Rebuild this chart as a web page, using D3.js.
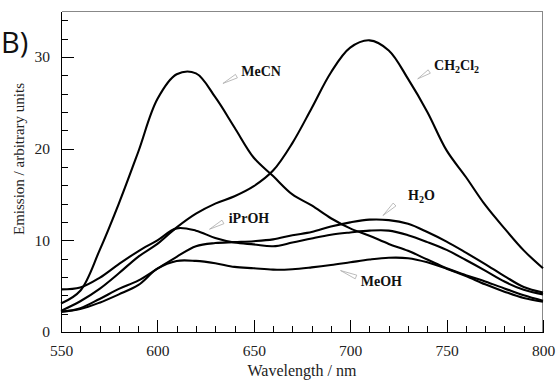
<!DOCTYPE html>
<html>
<head>
    <title>Emission spectra</title>
    <style>
        body {
            margin: 0;
            background: #fff;
        }

        text {
            font-family: 'Liberation Serif', 'Times New Roman', serif;
        }

        .axis path,
        .axis line {
            fill: none;
            stroke: #000;
            shape-rendering: crispEdges;
        }

        .axis text {
            font-size: 15.5px;
            fill: #222;
        }

        .frame {
            fill: none;
            stroke: #888;
            shape-rendering: crispEdges;
        }

        .line {
            fill: none;
            stroke: #000;
            stroke-width: 2.1px;
            stroke-linejoin: round;
        }

        .label {
            font-size: 14px;
            font-weight: bold;
            fill: #111;
        }

        .pointer {
            fill: none;
            stroke: #aaa;
            stroke-width: 0.8px;
        }
    </style>
    <script src="https://cdn.jsdelivr.net/npm/d3@7"></script>
</head>
<body>
    <script type="text/javascript">
        "use strict";
        const margin = { top: 11, right: 15, bottom: 49, left: 61 },
            width = 558 - margin.left - margin.right,
            height = 381 - margin.top - margin.bottom;

        // wavelengths (nm) shared by every series
        var wavelengths = [550, 560, 570, 580, 590, 600, 610, 620, 630, 640, 650, 660, 670,
            680, 690, 700, 710, 720, 730, 740, 750, 760, 770, 780, 790, 800];

        var mecn = [3.1, 4.5, 8.9, 14.0, 19.6, 25.4, 28.1, 28.2, 25.6, 22.3, 19.0, 17.0, 15.0,
            13.8, 12.4, 11.3, 10.5, 9.6, 8.85, 7.9, 6.95, 6.2, 5.5, 4.75, 4.0, 3.4];
        var ch2cl2 = [2.3, 3.35, 4.7, 6.4, 8.2, 9.6, 11.4, 12.9, 14.0, 14.8, 15.9, 17.6, 20.6,
            24.4, 28.3, 31.0, 31.8, 30.7, 27.6, 24.0, 19.8, 16.9, 13.85, 11.3, 8.9, 6.95];
        var iproh = [4.65, 4.85, 5.9, 7.4, 8.8, 10.0, 11.3, 11.05, 10.25, 9.75, 9.55, 9.35, 9.75,
            10.2, 10.6, 10.85, 11.05, 11.05, 10.55, 9.8, 8.95, 7.85, 6.7, 5.5, 4.6, 4.1];
        var h2o = [2.2, 2.6, 3.6, 4.7, 5.6, 6.9, 8.2, 9.35, 9.7, 9.8, 9.9, 10.1, 10.55,
            10.9, 11.5, 11.95, 12.25, 12.2, 11.8, 10.9, 9.85, 8.65, 7.4, 6.1, 4.9, 4.3];
        var meoh = [2.2, 2.5, 3.2, 4.1, 5.1, 6.9, 7.75, 7.75, 7.5, 7.1, 6.95, 6.8, 6.85,
            7.05, 7.3, 7.6, 7.9, 8.1, 8.05, 7.6, 6.9, 6.1, 5.2, 4.4, 3.7, 3.3];

        var seriesNames = ["MeCN", "CH2Cl2", "iPrOH", "H2O", "MeOH"];
        var seriesValues = [mecn, ch2cl2, iproh, h2o, meoh];

        var xTicks = [550, 600, 650, 700, 750, 800];
        var yTicks = [0, 10, 20, 30];

        // label anchor and pointer ends, in data units
        var labelPos = [
            { name: "MeCN", x: 643.5, y: 27.9, tipX: 634, tipY: 27.1, baseX: 641, baseY: 27.9 },
            { name: "CH2Cl2", x: 743.5, y: 28.6, tipX: 735, tipY: 27.6, baseX: 741, baseY: 28.4 },
            { name: "H2O", x: 730, y: 14.4, tipX: 717, tipY: 12.7, baseX: 723, baseY: 13.9 },
            { name: "iPrOH", x: 637, y: 11.9, tipX: 627, tipY: 11.2, baseX: 634, baseY: 12.0 },
            { name: "MeOH", x: 705.5, y: 5.0, tipX: 695, tipY: 6.7, baseX: 703, baseY: 6.0 }
        ];

        var x = d3.scaleLinear().domain([550, 800]).range([0, width]);
        var y = d3.scaleLinear().domain([0, 35]).range([height, 0]);

        var svg = d3.select("body").append("svg")
            .attr("width", width + margin.left + margin.right)
            .attr("height", height + margin.top + margin.bottom);

        var g = svg.append("g")
            .attr("transform", "translate(" + margin.left + "," + margin.top + ")");

        // top / right frame in grey
        g.append("path")
            .attr("class", "frame")
            .attr("d", "M0.5,0.5H" + (width - 0.5) + "V" + height);

        // minor ticks
        g.append("g")
            .attr("class", "axis")
            .attr("transform", "translate(0," + height + ")")
            .call(d3.axisBottom(x).tickValues(d3.range(550, 801, 10)).tickSize(-6).tickFormat(""))
            .select(".domain").remove();
        g.append("g")
            .attr("class", "axis")
            .call(d3.axisLeft(y).tickValues(d3.range(0, 35, 2)).tickSize(-7).tickFormat(""))
            .select(".domain").remove();

        // major ticks + labels
        var xAxis = g.append("g")
            .attr("class", "axis")
            .attr("transform", "translate(0," + height + ")")
            .call(d3.axisBottom(x).tickValues(xTicks).tickSizeInner(-12).tickSizeOuter(0).tickPadding(15));
        xAxis.selectAll("text").attr("dy", "0.55em");

        var yAxis = g.append("g")
            .attr("class", "axis")
            .call(d3.axisLeft(y).tickValues(yTicks).tickSizeInner(-13).tickSizeOuter(0).tickPadding(11));

        var line = d3.line()
            .curve(d3.curveCatmullRom.alpha(0.5))
            .x(function (d) { return x(d.w); })
            .y(function (d) { return y(d.v); });

        seriesValues.forEach(function (vals, i) {
            var pts = wavelengths.map(function (w, j) { return { w: w, v: vals[j] }; });
            g.append("path")
                .datum(pts)
                .attr("class", "line")
                .attr("d", line);
        });

        // labels with little wedge pointers
        labelPos.forEach(function (d) {
            var tx = x(d.tipX), ty = y(d.tipY), bx = x(d.baseX), by = y(d.baseY);
            var dx = bx - tx, dy = by - ty, len = Math.sqrt(dx * dx + dy * dy);
            var nx = -dy / len * 2, ny = dx / len * 2;
            g.append("path")
                .attr("class", "pointer")
                .attr("d", "M" + tx + "," + ty + "L" + (bx + nx) + "," + (by + ny) +
                    "L" + (bx - nx) + "," + (by - ny) + "Z");

            var t = g.append("text")
                .attr("class", "label")
                .attr("x", x(d.x))
                .attr("y", y(d.y));
            if (d.name === "CH2Cl2") {
                t.append("tspan").text("CH");
                t.append("tspan").attr("font-size", "10px").attr("dy", 3).text("2");
                t.append("tspan").attr("dy", -3).text("Cl");
                t.append("tspan").attr("font-size", "10px").attr("dy", 3).text("2");
            } else if (d.name === "H2O") {
                t.append("tspan").text("H");
                t.append("tspan").attr("font-size", "10px").attr("dy", 3).text("2");
                t.append("tspan").attr("dy", -3).text("O");
            } else {
                t.text(d.name);
            }
        });

        // axis titles
        svg.append("text")
            .attr("x", 302)
            .attr("y", 376)
            .attr("text-anchor", "middle")
            .style("font-size", "16px")
            .style("fill", "#222")
            .text("Wavelength / nm");

        svg.append("text")
            .attr("transform", "translate(24,159) rotate(-90)")
            .attr("text-anchor", "middle")
            .style("font-size", "15px")
            .style("fill", "#222")
            .text("Emission / arbitrary units");

        svg.append("text")
            .attr("x", 1)
            .attr("y", 53)
            .style("font-family", "'Open Sans', 'Liberation Sans', sans-serif")
            .style("font-size", "29px")
            .style("fill", "#111")
            .text("B)");
    </script>
</body>
</html>
